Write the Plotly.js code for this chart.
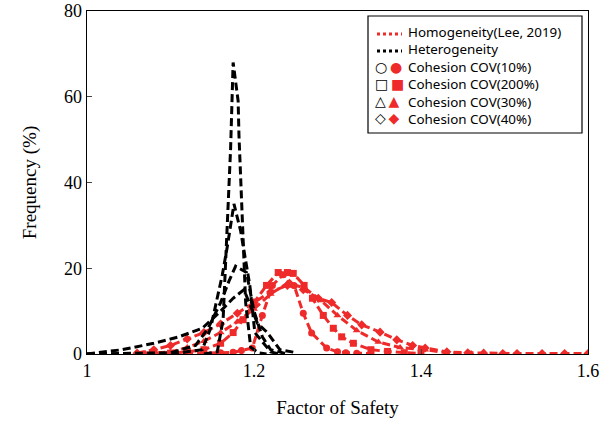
<!DOCTYPE html>
<html><head><meta charset="utf-8">
<script src="https://cdn.plot.ly/plotly-3.0.1.min.js"></script>
<style>body{margin:0;background:#fff}#chart{width:612px;height:430px}</style>
</head><body><div id="chart"></div>
<script>
// Heterogeneity (black, open markers)
const het10_x = [1.14, 1.156, 1.163, 1.168, 1.171, 1.172, 1.175, 1.181, 1.182, 1.186, 1.19, 1.196, 1.205, 1.215];
const het10_y = [0, 0.5, 8, 30, 45.6, 48, 68, 59, 51, 32, 12, 1.6, 0.3, 0];
const het200_x = [1.0, 1.10, 1.12, 1.138, 1.148, 1.162, 1.168, 1.176, 1.184, 1.195, 1.201, 1.211, 1.22, 1.23];
const het200_y = [0, 0, 0.5, 1, 6, 18.4, 25, 35, 28.7, 16, 5, 2.6, 0.5, 0];
const het30_x = [1.0, 1.10, 1.13, 1.145, 1.16, 1.17, 1.178, 1.191, 1.20, 1.21, 1.22, 1.24];
const het30_y = [0, 0.3, 2, 6, 12, 17, 20.5, 19, 10, 4, 1, 0];
const het40_x = [1.0, 1.042, 1.08, 1.11, 1.138, 1.16, 1.175, 1.188, 1.204, 1.216, 1.231, 1.251];
const het40_y = [0, 1, 2.5, 4, 6, 10, 13, 15, 7.2, 5, 1, 0.3];
// Homogeneity (Lee, 2019) (red, filled markers)
const hom10_x = [1.06, 1.08, 1.10, 1.12, 1.14, 1.16, 1.175, 1.185, 1.198, 1.21, 1.222, 1.235, 1.248, 1.259, 1.269, 1.287, 1.30, 1.31, 1.323, 1.34];
const hom10_y = [0, 0, 0.1, 0.1, 0.2, 0.3, 0.4, 0.8, 1.4, 9, 16, 18.5, 16, 9.5, 4.9, 1.4, 0.5, 0.3, 0.2, 0.1];
const hom200_x = [1.08, 1.10, 1.12, 1.14, 1.16, 1.175, 1.187, 1.20, 1.215, 1.229, 1.24, 1.247, 1.26, 1.27, 1.283, 1.295, 1.305, 1.319, 1.34, 1.36, 1.38, 1.40];
const hom200_y = [0.1, 0.2, 0.5, 1, 2.5, 5, 8, 12, 16, 19, 19, 18.8, 16, 13, 9, 6, 4, 2.5, 1, 0.6, 0.3, 0.1];
const hom30_x = [1.07, 1.10, 1.12, 1.14, 1.16, 1.18, 1.20, 1.22, 1.24, 1.26, 1.28, 1.30, 1.323, 1.349, 1.375, 1.405, 1.43, 1.46];
const hom30_y = [0.1, 0.5, 1.5, 3, 5, 7.5, 10.5, 14, 16.5, 15.5, 12.5, 9, 5.5, 2.8, 1.5, 1, 0.3, 0.1];
const hom40_x = [1.06, 1.08, 1.10, 1.12, 1.14, 1.16, 1.18, 1.20, 1.22, 1.24, 1.259, 1.277, 1.293, 1.312, 1.329, 1.351, 1.371, 1.39, 1.405, 1.431, 1.456, 1.475, 1.498, 1.515, 1.545, 1.572, 1.6];
const hom40_y = [0.2, 1, 2, 3.5, 5, 7, 9.5, 12, 14.5, 16, 15, 13, 12, 9, 6.8, 5.1, 3.3, 2, 1.4, 0.5, 0.3, 0.2, 0.1, 0.1, 0.1, 0.1, 0.1];

const xTicks = [1, 1.2, 1.4, 1.6];
const yTicks = [0, 20, 40, 60, 80];
const legendLabels = ['Homogeneity(Lee, 2019)', 'Heterogeneity', 'Cohesion COV(10%)', 'Cohesion COV(200%)', 'Cohesion COV(30%)', 'Cohesion COV(40%)'];
const legendSymbols = [['○','●'], ['□','■'], ['△','▲'], ['◇','◆']];

const RED = '#EE2A2A';
const dash = '8px,4px';
function red(x, y, sym) {
  return {x, y, type: 'scatter', mode: 'lines+markers', showlegend: false,
    line: {color: RED, width: 3, dash: dash},
    marker: {symbol: sym, size: 7, color: RED}};
}
function blk(x, y, sym) {
  return {x, y, type: 'scatter', mode: 'lines+markers', showlegend: false,
    line: {color: '#000', width: 3, dash: dash},
    marker: {symbol: sym, size: 6, color: 'rgba(255,255,255,0)', line: {color: '#000', width: 1.2}}};
}
const data = [
  red(hom40_x, hom40_y, 'diamond'), red(hom30_x, hom30_y, 'triangle-up'),
  red(hom200_x, hom200_y, 'square'), red(hom10_x, hom10_y, 'circle'),
  blk(het40_x, het40_y, 'diamond-open'), blk(het30_x, het30_y, 'triangle-up-open'),
  blk(het200_x, het200_y, 'square-open'), blk(het10_x, het10_y, 'circle-open')
];

const L = 87, R = 588, T = 11, B = 354;
const px = v => (v - L) / (R - L);
const py = v => (B - v) / (B - T);

const shapes = [
  {type: 'rect', xref: 'paper', yref: 'paper', x0: px(368), x1: px(582), y0: py(133), y1: py(16), line: {color: '#000', width: 1.2}, fillcolor: '#fff'},
  {type: 'line', xref: 'paper', yref: 'paper', x0: px(377), x1: px(402), y0: py(34), y1: py(34), line: {color: RED, width: 3, dash: 'dot'}},
  {type: 'line', xref: 'paper', yref: 'paper', x0: px(377), x1: px(402), y0: py(51), y1: py(51), line: {color: '#000', width: 3, dash: 'dot'}}
];
const annotations = [
  {xref: 'paper', yref: 'paper', x: px(406), y: py(76), xanchor: 'left', yanchor: 'middle', align: 'left',
    text: legendLabels.join('<br>'), showarrow: false,
    font: {family: 'Noto Sans, sans-serif', size: 13.4, color: '#000'}},
  {xref: 'paper', yref: 'paper', x: px(373), y: py(93), xanchor: 'left', yanchor: 'middle', align: 'left',
    text: legendSymbols.map(s => '<span style="font-size:14px">' + s[0] + '&#8201;<span style="color:' + RED + '">' + s[1] + '</span></span>').join('<br>'),
    showarrow: false, font: {family: 'DejaVu Sans', size: 13, color: '#000'}}
];

const layout = {
  width: 612, height: 430,
  margin: {l: L, r: 612 - R, t: T, b: 430 - B, pad: 0},
  paper_bgcolor: '#fff', plot_bgcolor: '#fff',
  font: {family: 'Liberation Serif, serif', size: 18, color: '#000'},
  xaxis: {range: [1, 1.6], tickvals: xTicks, ticktext: xTicks.map(String), ticks: 'inside', ticklen: 5,
    showline: true, mirror: true, linecolor: '#000', linewidth: 1.3, showgrid: false, zeroline: false,
    tickfont: {size: 18}, title: {text: 'Factor of Safety', font: {size: 19}, standoff: 20}},
  yaxis: {range: [0, 80], tickvals: yTicks, ticks: 'inside', ticklen: 5,
    showline: true, mirror: true, linecolor: '#000', linewidth: 1.3, showgrid: false, zeroline: false,
    tickfont: {size: 18}, title: {text: 'Frequency (%)', font: {size: 19}, standoff: 22}},
  shapes, annotations
};
Plotly.newPlot('chart', data, layout, {displayModeBar: false, staticPlot: true});
</script></body></html>
